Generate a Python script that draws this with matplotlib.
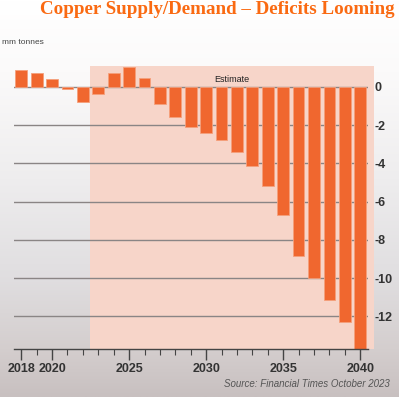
import numpy as np
import matplotlib
matplotlib.use("Agg")
import matplotlib.pyplot as plt
from matplotlib.patches import Rectangle
from matplotlib.colors import LinearSegmentedColormap

# data (mm tonnes, surplus + / deficit -)
years = list(range(2018, 2041))
balance = [0.9, 0.7, 0.42, -0.13, -0.8, -0.35, 0.73, 1.05, 0.44, -0.87, -1.55,
           -2.12, -2.4, -2.78, -3.4, -4.13, -5.17, -6.69, -8.86, -10.0, -11.13,
           -12.28, -14.0]
major_years = [2018, 2020, 2025, 2030, 2035, 2040]
y_ticks = [0, -2, -4, -6, -8, -10, -12]
estimate_start = 2022.46
estimate_end = 2040.9

fig = plt.figure(figsize=(3.99, 3.97), dpi=100)

# washed-out sky background
bg = fig.add_axes([0, 0, 1, 1], zorder=-10)
sky = LinearSegmentedColormap.from_list(
    "sky", [(0.0, "#ffffff"), (0.18, "#fbfafa"), (0.45, "#eeedee"),
            (0.7, "#e0dee0"), (0.88, "#d4cece"), (1.0, "#c8c0c0")])
grad = np.linspace(0, 1, 256).reshape(-1, 1)
bg.imshow(grad, aspect="auto", cmap=sky, extent=[0, 1, 0, 1])
bg.axis("off")

ax = fig.add_axes([0.034, 0.121, 0.888, 0.718])
ax.patch.set_alpha(0)

ax.add_patch(Rectangle((estimate_start, -13.7), estimate_end - estimate_start,
                       13.7 + 1.1, facecolor="#f7d5c9", edgecolor="none",
                       zorder=0, clip_on=False))

for t in y_ticks:
    ax.axhline(t, color="#8a8585", lw=1.0, zorder=1)

ax.bar(years, balance, width=0.76, color="#f0672f", edgecolor="#f5a07c",
       linewidth=0.6, zorder=2)

ax.set_xlim(2017.5, 2040.5)
ax.set_ylim(-13.7, 1.2)

for s in ["left", "top", "right"]:
    ax.spines[s].set_visible(False)
ax.spines["bottom"].set_color("#444444")
ax.spines["bottom"].set_linewidth(1.0)

tick_font = dict(fontsize=9, fontweight="bold", family="Liberation Sans",
                 color="#333333")

ax.set_xticks(major_years)
ax.set_xticklabels([str(y) for y in major_years], **tick_font)
ax.set_xticks(years, minor=True)
ax.tick_params(axis="x", which="major", length=8, width=1, color="#444444",
               pad=2)
ax.tick_params(axis="x", which="minor", length=4, width=0.8, color="#444444")

ax.yaxis.tick_right()
ax.set_yticks(y_ticks)
ax.set_yticklabels([str(t) if t == 0 else "-" + str(-t) for t in y_ticks],
                   **tick_font)
ax.tick_params(axis="y", length=0, pad=5)

fig.text(0.545, 0.976, "Copper Supply/Demand \u2013 Deficits Looming",
         ha="center", va="center", fontsize=13.7, fontweight="bold",
         family="Liberation Serif", color="#fa6a12")
fig.text(0.005, 0.893, "mm tonnes", ha="left", va="center", fontsize=6,
         family="Liberation Sans", color="#444444")
ax.text(2031.65, 0.4, "Estimate", ha="center", va="center", fontsize=6.5,
        family="Liberation Sans", color="#222222", zorder=3)
fig.text(0.978, 0.034, "Source: Financial Times October 2023", ha="right",
         va="center", fontsize=7, style="italic", family="Liberation Sans",
         color="#555555")

fig.savefig("out.png", dpi=100)
